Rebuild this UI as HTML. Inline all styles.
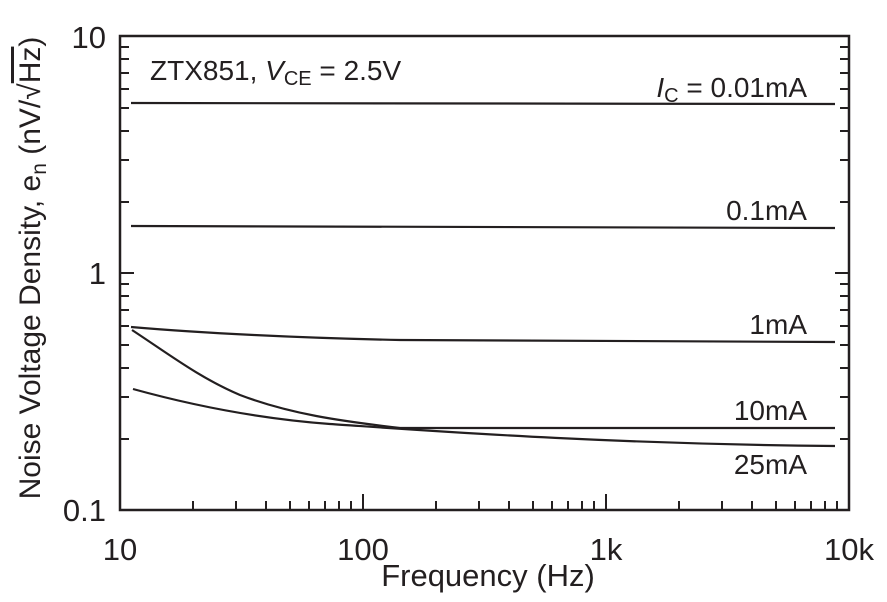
<!DOCTYPE html>
<html><head><meta charset="utf-8"><style>
html,body{margin:0;padding:0;background:#fff;}
svg{display:block;font-family:"Liberation Sans",Arial,sans-serif;}
</style></head><body>
<svg width="887" height="602" viewBox="0 0 887 602" xmlns="http://www.w3.org/2000/svg">
<g stroke="#231f20" fill="none">
<rect x="120" y="36" width="729" height="474" stroke-width="2.5"/>
<g stroke-width="2">
<path d="
M120,439h9 M120,397h9 M120,368h9 M120,345h9 M120,326h9 M120,310h9 M120,296h9 M120,284h9 M120,273h14
M120,202h9 M120,160h9 M120,131h9 M120,108h9 M120,89h9 M120,73h9 M120,59h9 M120,47h9
M849,439h-9 M849,397h-9 M849,368h-9 M849,345h-9 M849,326h-9 M849,310h-9 M849,296h-9 M849,284h-9 M849,273h-14
M849,202h-9 M849,160h-9 M849,131h-9 M849,108h-9 M849,89h-9 M849,73h-9 M849,59h-9 M849,47h-9"/>
<path d="
M193,510v-9 M236,510v-9 M266,510v-9 M290,510v-9 M309,510v-9 M325,510v-9 M339,510v-9 M351,510v-9 M363,510v-16
M436,510v-9 M479,510v-9 M509,510v-9 M533,510v-9 M552,510v-9 M568,510v-9 M582,510v-9 M594,510v-9 M606,510v-16
M679,510v-9 M722,510v-9 M752,510v-9 M776,510v-9 M795,510v-9 M811,510v-9 M825,510v-9 M837,510v-9"/>
</g>
<g stroke-width="2.2">
<path d="M131,103 L835,104"/>
<path d="M131,226 L835,228"/>
<path d="M131,327 C200,333 300,338 400,340 L835,342"/>
<path d="M132,330 C170,355 200,378 240,395 C290,414 340,421 400,428 L835,428"/>
<path d="M133,389 C180,402 250,418 330,424 C420,430 600,444 835,446"/>
</g>
</g>
<g fill="#231f20" font-size="31">
<text x="106" y="48" text-anchor="end">10</text>
<text x="106" y="284" text-anchor="end">1</text>
<text x="106" y="521" text-anchor="end">0.1</text>
<text x="120" y="560" text-anchor="middle">10</text>
<text x="363" y="560" text-anchor="middle">100</text>
<text x="606" y="560" text-anchor="middle">1k</text>
<text x="849" y="560" text-anchor="middle">10k</text>
<text x="488" y="586" text-anchor="middle">Frequency (Hz)</text>
</g>
<g fill="#231f20" font-size="28">
<text x="150" y="80">ZTX851, <tspan font-style="italic">V</tspan><tspan font-size="20" dy="5">CE</tspan><tspan dy="-5"> = 2.5V</tspan></text>
<text x="807" y="97" text-anchor="end"><tspan font-style="italic">I</tspan><tspan font-size="20" dy="5">C</tspan><tspan dy="-5"> = 0.01mA</tspan></text>
<text x="807" y="220" text-anchor="end">0.1mA</text>
<text x="807" y="334" text-anchor="end">1mA</text>
<text x="807" y="420" text-anchor="end">10mA</text>
<text x="807" y="474" text-anchor="end">25mA</text>
</g>
<g transform="translate(40,268) rotate(-90)" fill="#231f20" font-size="30">
<text x="0" y="0" text-anchor="middle">Noise Voltage Density, e<tspan font-size="21" dy="6">n</tspan><tspan dy="-6"> (nV/√<tspan text-decoration="overline">Hz</tspan>)</tspan></text>
</g>
</svg>
</body></html>
